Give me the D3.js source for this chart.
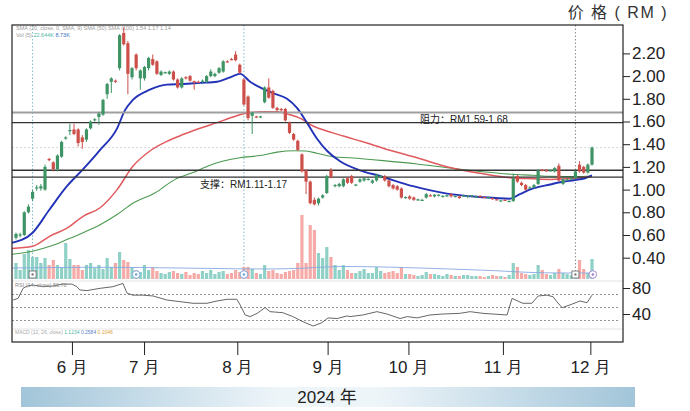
<!DOCTYPE html>
<html><head><meta charset="utf-8">
<script src="https://cdn.jsdelivr.net/npm/d3@7/dist/d3.min.js"></script>
<style>
body{margin:0;background:#fff;}
svg{display:block;font-family:"Liberation Sans",Arial,"Noto Sans CJK SC",sans-serif;}
</style>
</head><body>
<svg id="c" width="690" height="411"></svg>
<script>
// ---------- DATA ----------
const open  = [.575,.60,.60,.80,.92,1.01,1.01,1.00,1.27,1.24,1.18,1.29,1.45,1.515,1.53,1.53,1.46,1.44,1.54,1.61,1.64,1.66,1.84,1.95,1.96,2.07,2.38,2.29,1.99,2.19,1.98,1.98,2.07,2.15,2.13,2.01,2.03,2.02,2.04,1.97,1.90,1.99,2.00,1.955,1.95,1.95,1.95,2.00,2.00,2.03,2.04,2.13,2.15,2.19,2.10,1.97,1.82,1.65,1.645,1.64,1.77,1.90,1.87,1.72,1.71,1.71,1.59,1.49,1.43,1.31,1.17,1.07,.91,.88,.93,.97,1.17,1.03,1.03,1.03,1.10,1.12,1.04,1.07,1.08,1.09,1.06,1.08,1.11,1.12,1.08,1.04,1.03,1.01,.93,.94,.93,.91,.91,.93,.95,.94,.95,.94,.945,.96,.94,.94,.945,.935,.945,.94,.945,.935,.93,.925,.915,.905,.91,.90,.90,1.12,1.06,1.04,1.02,1.02,1.05,1.175,1.17,1.165,1.16,1.21,1.05,1.085,1.09,1.10,1.22,1.20,1.15,1.22];
const high  = [.62,.62,.81,.87,1.00,1.04,1.05,1.22,1.28,1.25,1.31,1.43,1.47,1.58,1.58,1.54,1.48,1.54,1.61,1.63,1.68,1.80,1.94,1.99,1.97,2.37,2.43,2.31,2.08,2.20,2.06,2.09,2.17,2.19,2.14,2.05,2.04,2.05,2.05,1.98,1.99,2.00,2.01,1.96,1.96,1.97,2.01,2.06,2.03,2.08,2.14,2.14,2.16,2.22,2.11,1.98,1.83,1.68,1.65,1.65,1.91,1.98,1.88,1.73,1.72,1.72,1.60,1.50,1.44,1.32,1.18,1.08,.93,.93,.96,1.13,1.19,1.05,1.06,1.10,1.11,1.13,1.05,1.10,1.11,1.10,1.09,1.14,1.13,1.13,1.09,1.05,1.04,1.02,.94,.95,.94,.92,.92,.97,.96,.96,.96,.95,.955,.97,.95,.95,.955,.95,.95,.945,.95,.94,.94,.93,.92,.91,.915,.905,1.14,1.13,1.07,1.05,1.03,1.05,1.18,1.18,1.18,1.175,1.20,1.23,1.10,1.10,1.11,1.17,1.25,1.21,1.23,1.38];
const low   = [.56,.58,.59,.79,.90,.99,.99,.99,1.25,1.16,1.16,1.28,1.44,1.48,1.48,1.38,1.36,1.42,1.53,1.60,1.57,1.65,1.80,1.85,1.94,2.05,2.27,1.84,1.97,2.05,1.88,1.96,2.05,2.09,2.01,2.00,2.02,2.01,1.96,1.89,1.89,1.97,1.95,1.88,1.94,1.94,1.94,1.99,1.99,2.02,2.03,2.12,2.14,2.13,2.02,1.74,1.61,1.49,1.63,1.63,1.76,1.80,1.71,1.69,1.69,1.60,1.49,1.43,1.34,1.15,.96,.87,.86,.86,.92,.96,1.10,1.02,1.02,1.02,1.05,1.05,1.03,1.06,1.07,1.08,1.05,1.07,1.10,1.07,1.02,1.00,.99,.92,.92,.91,.90,.90,.90,.92,.94,.93,.94,.93,.935,.93,.93,.92,.935,.925,.935,.93,.93,.925,.92,.91,.905,.895,.90,.89,.89,1.06,1.03,.99,1.01,1.01,1.04,1.16,1.16,1.16,1.15,1.07,1.04,1.08,1.085,1.09,1.15,1.14,1.14,1.21];
const close = [.61,.605,.80,.85,.98,1.02,1.03,1.20,1.26,1.18,1.30,1.42,1.46,1.525,1.49,1.41,1.42,1.53,1.60,1.62,1.67,1.79,1.93,1.98,1.95,2.36,2.28,2.02,2.07,2.07,2.05,2.08,2.16,2.10,2.02,2.04,2.035,2.04,1.97,1.90,1.98,1.98,1.96,1.95,1.945,1.96,2.00,2.04,2.02,2.07,2.13,2.12,2.14,2.14,2.03,1.75,1.63,1.68,1.64,1.645,1.90,1.81,1.72,1.70,1.70,1.61,1.50,1.44,1.35,1.16,1.07,.88,.87,.92,.95,1.12,1.11,1.04,1.05,1.09,1.06,1.06,1.045,1.09,1.10,1.095,1.08,1.13,1.12,1.08,1.03,1.01,1.00,.93,.935,.92,.91,.915,.91,.96,.945,.955,.955,.945,.95,.94,.945,.925,.95,.945,.95,.94,.935,.93,.935,.915,.91,.905,.905,.90,1.10,1.07,1.04,1.00,1.02,1.04,1.17,1.17,1.165,1.17,1.19,1.08,1.09,1.09,1.10,1.16,1.16,1.15,1.22,1.37];
const volume = [1.6,.9,2.5,2.9,2.2,2.2,1.6,2.1,1.4,1.9,1.4,1.2,3.6,2.0,1.4,1.4,.9,1.4,1.6,1.1,1.4,1.0,2.1,1.2,1.6,2.7,1.9,1.7,1.2,.9,.7,1.4,.9,1.2,.8,.6,.5,.7,.8,.6,.5,.7,.4,.6,.5,.8,.6,.9,.5,.7,.8,.5,.6,.9,.7,1.2,1.2,1.0,.6,.5,1.4,.8,.9,.6,.5,.7,.8,.9,1.6,6.4,1.6,5.4,4.9,2.6,2.1,3.2,2.2,1.4,.9,1.4,.9,.6,.6,.8,1.0,.6,.6,1.2,.8,.6,.7,.8,.6,1.2,.5,.5,.4,.3,.4,.7,.5,.5,.4,.3,.5,.4,.3,.3,.4,.4,.3,.3,.3,.2,.3,.4,.3,.3,.2,.4,1.6,1.2,.6,.5,.4,.5,1.4,.9,.5,.4,.6,1.0,.6,.5,.4,.6,1.9,1.0,.6,2.0];
// moving averages, read at bar positions: [barIndex, price]
const sma20  = [[-1,.53],[4,.62],[8,.82],[12.3,1.03],[16.2,1.18],[20.3,1.35],[24.4,1.54],[26.3,1.70],[28.2,1.79],[32.3,1.88],[36.4,1.925],[40.3,1.93],[44.4,1.94],[48.5,1.95],[52.4,2.00],[54.1,2.02],[56.5,1.95],[58.9,1.90],[62,1.85],[65.4,1.80],[67.8,1.72],[70.2,1.59],[72.6,1.45],[75.1,1.34],[78.2,1.25],[83,1.17],[87.8,1.12],[95.8,1.03],[104,.965],[112,.935],[119.2,.92],[121.6,.96],[124.8,1.01],[128.9,1.045],[131.3,1.065],[134.9,1.085],[137.3,1.10],[139,1.125]];
const sma50  = [[-1,.48],[4,.50],[8.2,.59],[12.3,.66],[16.2,.765],[20.3,.84],[24.4,1.00],[28.2,1.205],[32.3,1.34],[36.4,1.425],[40.3,1.485],[44.4,1.54],[48.5,1.59],[52.4,1.64],[55.2,1.67],[58.9,1.685],[63,1.685],[66.1,1.66],[68.5,1.63],[71.7,1.56],[76.5,1.50],[80.6,1.455],[84.7,1.41],[88.6,1.365],[96.8,1.28],[104.7,1.195],[112.7,1.14],[119.2,1.105],[124.8,1.095],[128.9,1.09],[134.9,1.10],[139,1.115]];
const sma100 = [[-1,.43],[4,.457],[8.2,.50],[12.3,.56],[16.2,.62],[20.3,.69],[24.4,.78],[28.2,.88],[33.5,.97],[38.4,1.09],[42.7,1.15],[46.8,1.215],[54,1.28],[58.9,1.30],[63,1.33],[67,1.342],[70,1.34],[72.6,1.32],[76.5,1.29],[80.6,1.28],[88.6,1.255],[96.8,1.225],[104.7,1.19],[112,1.16],[119.9,1.135],[124.8,1.126],[128.9,1.117],[134.9,1.115],[139,1.12]];
const volMA  = [[-1,1.1],[20,1.2],[40,1.1],[55,1.0],[68,1.0],[76,1.3],[90,1.2],[105,1.0],[118,.8],[125,.6],[139,.6]];
const rsi    = [[-0.7,61.5],[0.5,64],[1.7,79.5],[2.7,83],[4.1,84.6],[6.5,82],[8.9,83],[11.3,86],[13.5,86],[14.7,82],[15.4,77],[17.1,76],[20.3,79.5],[23.4,82],[25.8,87],[26.8,72],[28.2,69],[30.6,69],[33.1,67.7],[36.4,61.5],[39.6,59],[42.7,56.5],[46.1,56.5],[48.5,60],[50.9,62.6],[53.3,62.6],[54.1,53.8],[55.3,38.5],[56.5,36],[58.2,41],[60.1,50],[61.3,43.6],[64.4,42],[66.8,36],[69.3,28],[71.7,21.5],[73.8,26.6],[75.3,34],[77.5,33],[79.9,37],[80.6,36],[83.7,38.5],[87.1,43.6],[89.5,40],[92.7,33],[94.4,36],[96.8,34],[99.9,38.5],[103,40],[107.1,41],[109.6,43.6],[112.7,41],[116.1,39.5],[118.5,38.5],[119.7,64],[122.3,56.5],[124.5,56.5],[126,67.7],[128.1,69],[129.6,66.6],[130.5,59],[131.8,49.7],[133.7,54],[136.1,60],[137.8,57.4],[139,69]];
const priceTicks = [0.4,0.6,0.8,1.0,1.2,1.4,1.6,1.8,2.0,2.2];
const rsiTicks = [40,80];
const rsiLevels = [70,50,30];
const monthLabels = ["6 月","7 月","8 月","9 月","10 月","11 月","12 月"];
const monthIdx = [13.5,30.9,53.4,75.2,94.7,117.5,138.6];
const resistance = [1.59,1.68];
const support = [1.11,1.17];
const eventLines = [4,55,135];
const eventMarks = [[4,"sq"],[29,"ci"],[55,"ci"],[135,"sq"],[139.2,"pu"]];
const lastPrice = 1.37;

// ---------- DRAW ----------
const svg = d3.select("#c");
const L=12, R=623, T=25, B=342;
const x  = d3.scaleLinear().domain([0,139]).range([16,592]);
const y  = d3.scaleLinear().domain([0.4,2.2]).range([257.7,53.4]);
const yv = d3.scaleLinear().domain([0,6.4]).range([279,215]);
const yr = d3.scaleLinear().domain([40,80]).range([314,288]);
const GREEN="#3f9466", RED="#cc4f4a", TEAL="#8fd1c6", PINK="#f5aaa8";

// title
svg.append("text").attr("x",668).attr("y",18).attr("text-anchor","end")
  .attr("font-size",16).attr("fill","#333").attr("letter-spacing","1.5")
  .text("价 格 ( RM )");

// legend tiny text
const leg = svg.append("g").attr("font-size",5.5).attr("fill","#9a9a9a");
leg.append("text").attr("x",16).attr("y",30).text("SMA (20, close, 0, SMA, 9)  SMA (50)  SMA (100)    1.54   1.17   1.14");
leg.append("text").attr("x",16).attr("y",36.5).text("Vol (5)").append("tspan").attr("fill","#52b6a6").text("  22.644K ").append("tspan").attr("fill","#3a6fc0").text(" 8.73K");

// separators
svg.append("line").attr("x1",L).attr("x2",R).attr("y1",281).attr("y2",281).attr("stroke","#e4e4e4");
svg.append("line").attr("x1",L).attr("x2",R).attr("y1",329).attr("y2",329).attr("stroke","#e4e4e4");

// last price line
svg.append("line").attr("x1",L).attr("x2",R).attr("y1",y(lastPrice)).attr("y2",y(lastPrice))
  .attr("stroke","#d8d8d8").attr("stroke-dasharray","2,2");

// event vertical lines
svg.selectAll(".ev").data(eventLines).join("line")
  .attr("x1",d=>x(d)).attr("x2",d=>x(d)).attr("y1",T).attr("y2",278)
  .attr("stroke",(d,i)=>i<2?"#7fb9c4":"#8a8a8a").attr("stroke-dasharray","1.5,2").attr("stroke-width",1);

// volume
svg.append("g").selectAll("rect").data(volume).join("rect")
  .attr("x",(d,i)=>x(i)-1.6).attr("width",3.2)
  .attr("y",d=>yv(d)).attr("height",d=>yv(0)-yv(d))
  .attr("fill",(d,i)=>close[i]>=open[i]?TEAL:PINK);
svg.append("path").datum(volMA)
  .attr("d",d3.line().x(d=>x(d[0])).y(d=>yv(d[1])).curve(d3.curveBasis))
  .attr("fill","none").attr("stroke","#86a8e0").attr("stroke-width",0.9);

// event markers
const em = svg.append("g");
eventMarks.forEach(([i,t])=>{
  const cx=x(i), cy=274.5;
  if(t==="sq"){
    em.append("rect").attr("x",cx-3.5).attr("y",cy-3.5).attr("width",7).attr("height",7)
      .attr("fill","#fff").attr("stroke","#666").attr("stroke-width",0.8);
    em.append("rect").attr("x",cx-1).attr("y",cy-1).attr("width",2).attr("height",2).attr("fill","#666");
  } else {
    const col = t==="pu"?"#9b7fd0":"#6fa3d8";
    em.append("circle").attr("cx",cx).attr("cy",cy).attr("r",3.8).attr("fill","#fff").attr("stroke",col).attr("stroke-width",0.9);
    em.append("circle").attr("cx",cx).attr("cy",cy).attr("r",1.3).attr("fill",col);
  }
});

// moving averages
const maLine = d3.line().x(d=>x(d[0])).y(d=>y(d[1])).curve(d3.curveMonotoneX);
svg.append("path").datum(sma100).attr("d",maLine).attr("fill","none").attr("stroke","#4b9a4f").attr("stroke-width",1.1);
svg.append("path").datum(sma50).attr("d",maLine).attr("fill","none").attr("stroke","#e05a5e").attr("stroke-width",1.5);
svg.append("path").datum(sma20).attr("d",maLine).attr("fill","none").attr("stroke","#2233b8").attr("stroke-width",1.9);

// support / resistance lines
svg.append("line").attr("x1",L).attr("x2",R).attr("y1",y(resistance[1])).attr("y2",y(resistance[1])).attr("stroke","#9e9e9e").attr("stroke-width",2);
svg.append("line").attr("x1",L).attr("x2",R).attr("y1",y(resistance[0])).attr("y2",y(resistance[0])).attr("stroke","#333").attr("stroke-width",1.2);
support.forEach(s=>svg.append("line").attr("x1",L).attr("x2",R).attr("y1",y(s)).attr("y2",y(s)).attr("stroke","#333").attr("stroke-width",1.4));

// candles
const cg = svg.append("g");
open.forEach((o,i)=>{
  const c=close[i], up=c>=o, col=up?GREEN:RED;
  cg.append("line").attr("x1",x(i)).attr("x2",x(i)).attr("y1",y(high[i])).attr("y2",y(low[i])).attr("stroke",col).attr("stroke-width",1);
  const y0=y(Math.max(o,c)), y1=y(Math.min(o,c));
  cg.append("rect").attr("x",x(i)-1.6).attr("width",3.2).attr("y",y0).attr("height",Math.max(1.2,y1-y0)).attr("fill",col);
});

// labels
svg.append("text").attr("x",420).attr("y",122.5).attr("font-size",10).attr("fill","#222")
  .text("阻力：RM"+resistance[0].toFixed(2)+"-"+resistance[1].toFixed(2));
svg.append("text").attr("x",200).attr("y",188).attr("font-size",10).attr("fill","#222")
  .text("支撑：RM"+support[0].toFixed(2)+"-"+support[1].toFixed(2));

// RSI panel
svg.append("g").selectAll("line").data(rsiLevels).join("line")
  .attr("x1",L).attr("x2",R-3).attr("y1",d=>yr(d)).attr("y2",d=>yr(d))
  .attr("stroke","#777").attr("stroke-dasharray","2,2").attr("stroke-width",0.8);
svg.append("path").datum(rsi)
  .attr("d",d3.line().x(d=>x(d[0])).y(d=>yr(d[1])))
  .attr("fill","none").attr("stroke","#555").attr("stroke-width",0.9);
svg.append("text").attr("x",15).attr("y",287).attr("font-size",5.5).attr("fill","#888").text("RSI (14, close)  56.78");
const mac = svg.append("text").attr("x",15).attr("y",334).attr("font-size",5).attr("fill","#aaa").text("MACD (12, 26, close)  ");
mac.append("tspan").attr("fill","#58b8a8").text("1.1234 ");
mac.append("tspan").attr("fill","#5a80c8").text(" 0.2584 ");
mac.append("tspan").attr("fill","#e0a040").text(" 0.1046");

// frame
svg.append("rect").attr("x",L).attr("y",T).attr("width",R-L).attr("height",B-T)
  .attr("fill","none").attr("stroke","#222").attr("stroke-width",1.2);

// axes
function styleAxis(g){
  g.select(".domain").remove();
  g.selectAll(".tick line").attr("stroke","#222").attr("stroke-width",1);
  g.selectAll(".tick text").attr("fill","#222").attr("font-size",17)
    .attr("font-family","'Liberation Sans',Arial,sans-serif");
}
svg.append("g").attr("transform",`translate(${R},0)`)
  .call(d3.axisRight(y).tickValues(priceTicks).tickSize(7).tickPadding(2).tickFormat(d3.format(".2f")))
  .call(styleAxis);
svg.append("g").attr("transform",`translate(${R},0)`)
  .call(d3.axisRight(yr).tickValues(rsiTicks).tickSize(7).tickPadding(2))
  .call(styleAxis);
svg.append("g").attr("transform",`translate(0,${B})`)
  .call(d3.axisBottom(x).tickValues(monthIdx).tickSize(13).tickPadding(6).tickFormat((d,i)=>monthLabels[i]))
  .call(styleAxis);

// year band
const defs = svg.append("defs");
const gr = defs.append("linearGradient").attr("id","band");
[["0%","#a2c5d9"],["42%","#eef5f9"],["58%","#eef5f9"],["100%","#a2c5d9"]].forEach(([o,c])=>
  gr.append("stop").attr("offset",o).attr("stop-color",c));
svg.append("rect").attr("x",21).attr("y",387).attr("width",614).attr("height",20).attr("fill","url(#band)");
svg.append("text").attr("x",327).attr("y",403).attr("text-anchor","middle").attr("font-size",17).attr("fill","#222").text("2024 年");
</script>
</body></html>
